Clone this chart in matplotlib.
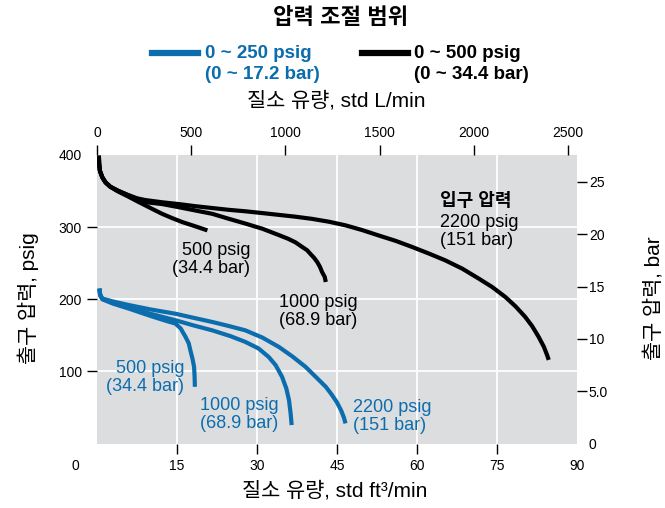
import matplotlib
matplotlib.use("Agg")
import matplotlib.pyplot as plt
from matplotlib.lines import Line2D

plt.rcParams['font.family'] = ['Liberation Sans', 'Noto Sans CJK KR']

# ---------------- data (x: std ft3/min, y: outlet pressure psig) ----------------
# 0 ~ 500 psig regulator (black), inlet 500 / 1000 / 2200 psig
black_500_x = [0.35, 0.4, 0.55, 1.0, 1.6, 2.5, 3.8, 5.7, 7.5, 9.1, 10.7, 12.2, 14.1, 16.0, 18.5, 20.7]
black_500_y = [399, 388, 378, 369, 362, 356, 350, 343, 336, 330, 324, 318.5, 312.5, 307, 301, 295.5]

black_1000_x = [0.35, 0.4, 0.55, 1.0, 1.6, 2.5, 3.8, 5.7, 7.5, 9.1, 12.2, 15.3, 18.5, 21.6, 24.7, 27.8,
                31.0, 34.1, 35.8, 37.2, 38.5, 39.4, 40.0, 40.7, 41.3, 41.8, 42.2, 42.7, 42.9]
black_1000_y = [399, 388, 378, 369, 362, 356, 351, 344.5, 338.5, 334.6, 332, 327.7, 323, 318.5, 311.6, 305,
                297.8, 289, 284, 279, 272.4, 268, 263, 257.5, 251.6, 245, 237.8, 231, 224]

black_2200_x = [0.35, 0.4, 0.55, 1.0, 1.6, 2.5, 3.8, 5.7, 7.5, 9.1, 12.2, 15.3, 18.5, 21.6, 24.7, 27.8,
                31.0, 34.1, 37.2, 40.3, 43.5, 46.6, 49.7, 52.8, 56.0, 59.1, 62.2, 65.3, 68.5, 71.6,
                74.1, 76.6, 78.5, 80.3, 81.6, 82.8, 83.8, 84.4, 84.7]
black_2200_y = [399, 388, 378, 369, 362, 356, 351, 345, 340, 337.5, 334.5, 332, 329, 326.5, 324, 322,
                319.5, 317, 314.5, 311.5, 307.5, 302.5, 296, 288.5, 281, 272.5, 263.5, 254, 242.4, 228.6,
                217, 203, 190, 175.5, 162.7, 148, 134, 122.5, 116]

# 0 ~ 250 psig regulator (blue), inlet 500 / 1000 / 2200 psig
blue_500_x = [0.45, 0.6, 1.0, 3.0, 6.0, 10.0, 13.0, 14.7, 15.7, 16.6, 17.2, 17.5, 17.9, 18.2, 18.3, 18.35]
blue_500_y = [214.8, 206, 200, 194, 187, 177, 170, 166.4, 159.5, 147.9, 139, 129.5, 117.8, 106.4, 92.6, 78.7]

blue_1000_x = [0.45, 0.6, 1.0, 3.0, 6.0, 10.0, 14.7, 18.0, 21.6, 25.0, 27.8, 30.3, 32.2, 33.5, 34.7, 35.5,
               36.0, 36.3, 36.5]
blue_1000_y = [214.8, 206, 200.5, 195, 189, 180, 171, 164, 157, 149, 141, 131.8, 120, 108.7, 92.5, 76.4,
               60.3, 42, 25.7]

blue_2200_x = [0.45, 0.6, 1.0, 3.0, 6.0, 10.0, 14.7, 18.0, 21.6, 24.7, 27.8, 31.0, 34.1, 36.6, 39.1, 41.0,
               42.9, 44.0, 45.0, 45.8, 46.3, 46.6]
blue_2200_y = [214.8, 206, 201, 197, 192, 186, 180, 174.5, 168.6, 163, 157, 147, 134, 121, 106.4, 92.6,
               78.7, 68, 57, 45.5, 36, 28]

x_ticks = [15, 30, 45, 60, 75, 90]
y_ticks = [100, 200, 300, 400]
top_ticks = [0, 500, 1000, 1500, 2000, 2500]
right_ticks = [0, 5, 10, 15, 20, 25]
right_tick_labels = ['0', '5.0', '10', '15', '20', '25']

FT3_TO_L = 28.317
PSI_PER_BAR = 14.5038

BLUE = '#0b6dae'
GRAY = '#dcdddf'

W, H = 665, 508
fig = plt.figure(figsize=(W / 100, H / 100), dpi=100)


def fx(px):
    return px / W


def fy(py):
    return 1 - py / H


ax = fig.add_axes([fx(97), fy(443.6), (577 - 97) / W, (443.6 - 155) / H])
ax.set_facecolor(GRAY)
ax.set_xlim(0, 90)
ax.set_ylim(0, 400)
for s in ax.spines.values():
    s.set_visible(False)

ax.set_xticks(x_ticks)
ax.set_yticks(y_ticks)
ax.grid(True, color='white', lw=1.3)
ax.set_axisbelow(True)
ax.tick_params(axis='x', direction='out', length=7, width=1, pad=4, labelsize=10)
ax.tick_params(axis='y', direction='out', length=7, width=1, pad=4, labelsize=10)
# no tick mark / grid on the edge ticks
xt = ax.xaxis.get_major_ticks()
xt[-1].tick1line.set_visible(False)
xt[-1].gridline.set_visible(False)
yt = ax.yaxis.get_major_ticks()
yt[-1].tick1line.set_visible(False)
yt[-1].gridline.set_visible(False)

lw = 3.0
for xs, ys in [(black_500_x, black_500_y), (black_1000_x, black_1000_y), (black_2200_x, black_2200_y)]:
    ax.plot(xs, ys, color='black', lw=lw, solid_capstyle='butt', solid_joinstyle='round')
for xs, ys in [(blue_500_x, blue_500_y), (blue_1000_x, blue_1000_y), (blue_2200_x, blue_2200_y)]:
    ax.plot(xs, ys, color=BLUE, lw=lw, solid_capstyle='butt', solid_joinstyle='round')

# top axis: std L/min
sec_x = ax.secondary_xaxis('top', functions=(lambda v: v * FT3_TO_L, lambda v: v / FT3_TO_L))
sec_x.set_xticks(top_ticks)
sec_x.tick_params(direction='out', length=7, width=1, pad=4, labelsize=10)
for s in sec_x.spines.values():
    s.set_visible(False)

# right axis: bar
sec_y = ax.secondary_yaxis('right', functions=(lambda v: v / PSI_PER_BAR, lambda v: v * PSI_PER_BAR))
sec_y.set_yticks(right_ticks)
sec_y.set_yticklabels(right_tick_labels)
sec_y.tick_params(direction='out', length=7, width=1, pad=1.5, labelsize=10)
for s in sec_y.spines.values():
    s.set_visible(False)
rt = sec_y.yaxis.get_major_ticks()
rt[0].tick1line.set_visible(False)
rt[0].tick2line.set_visible(False)

# origin label
fig.text(fx(75), fy(466), '0', ha='center', va='center', fontsize=10)

# axis labels
fig.text(fx(336), fy(101), '질소 유량, std L/min', ha='center', va='center', fontsize=15)
fig.text(fx(335), fy(491), '질소 유량, std ft³/min', ha='center', va='center', fontsize=15)
fig.text(fx(28), fy(298), '출구 압력, psig', ha='center', va='center', rotation=90, fontsize=15)
fig.text(fx(654), fy(298), '출구 압력, bar', ha='center', va='center', rotation=90, fontsize=15)

# title and legend
fig.text(fx(341), fy(18), '압력 조절 범위', ha='center', va='center', fontsize=16, fontweight='bold')
fig.add_artist(Line2D([fx(152), fx(198)], [fy(53), fy(53)], color=BLUE, lw=4.5))
fig.add_artist(Line2D([fx(362), fx(408)], [fy(53), fy(53)], color='black', lw=4.5))
fig.text(fx(205), fy(58), '0 ~ 250 psig', ha='left', va='baseline', fontsize=13.5,
         fontweight='bold', color=BLUE)
fig.text(fx(205), fy(79), '(0 ~ 17.2 bar)', ha='left', va='baseline', fontsize=13.5,
         fontweight='bold', color=BLUE)
fig.text(fx(414), fy(58), '0 ~ 500 psig', ha='left', va='baseline', fontsize=13.5,
         fontweight='bold', color='black')
fig.text(fx(414), fy(79), '(0 ~ 34.4 bar)', ha='left', va='baseline', fontsize=13.5,
         fontweight='bold', color='black')

# curve labels
LS = 13
fig.text(fx(250), fy(255), '500 psig', ha='right', va='baseline', fontsize=LS)
fig.text(fx(250), fy(273.3), '(34.4 bar)', ha='right', va='baseline', fontsize=LS)
fig.text(fx(279), fy(306.7), '1000 psig', ha='left', va='baseline', fontsize=LS)
fig.text(fx(279), fy(325.3), '(68.9 bar)', ha='left', va='baseline', fontsize=LS)
fig.text(fx(440), fy(206), '입구 압력', ha='left', va='baseline', fontsize=LS, fontweight='bold')
fig.text(fx(440), fy(227.3), '2200 psig', ha='left', va='baseline', fontsize=LS)
fig.text(fx(440), fy(245.3), '(151 bar)', ha='left', va='baseline', fontsize=LS)

fig.text(fx(184.3), fy(373.3), '500 psig', ha='right', va='baseline', fontsize=LS, color=BLUE)
fig.text(fx(184.3), fy(390.7), '(34.4 bar)', ha='right', va='baseline', fontsize=LS, color=BLUE)
fig.text(fx(278.3), fy(410), '1000 psig', ha='right', va='baseline', fontsize=LS, color=BLUE)
fig.text(fx(278.3), fy(428.3), '(68.9 bar)', ha='right', va='baseline', fontsize=LS, color=BLUE)
fig.text(fx(353.3), fy(411.7), '2200 psig', ha='left', va='baseline', fontsize=LS, color=BLUE)
fig.text(fx(353.3), fy(430), '(151 bar)', ha='left', va='baseline', fontsize=LS, color=BLUE)

fig.savefig('out.png', dpi=100, facecolor='white')
